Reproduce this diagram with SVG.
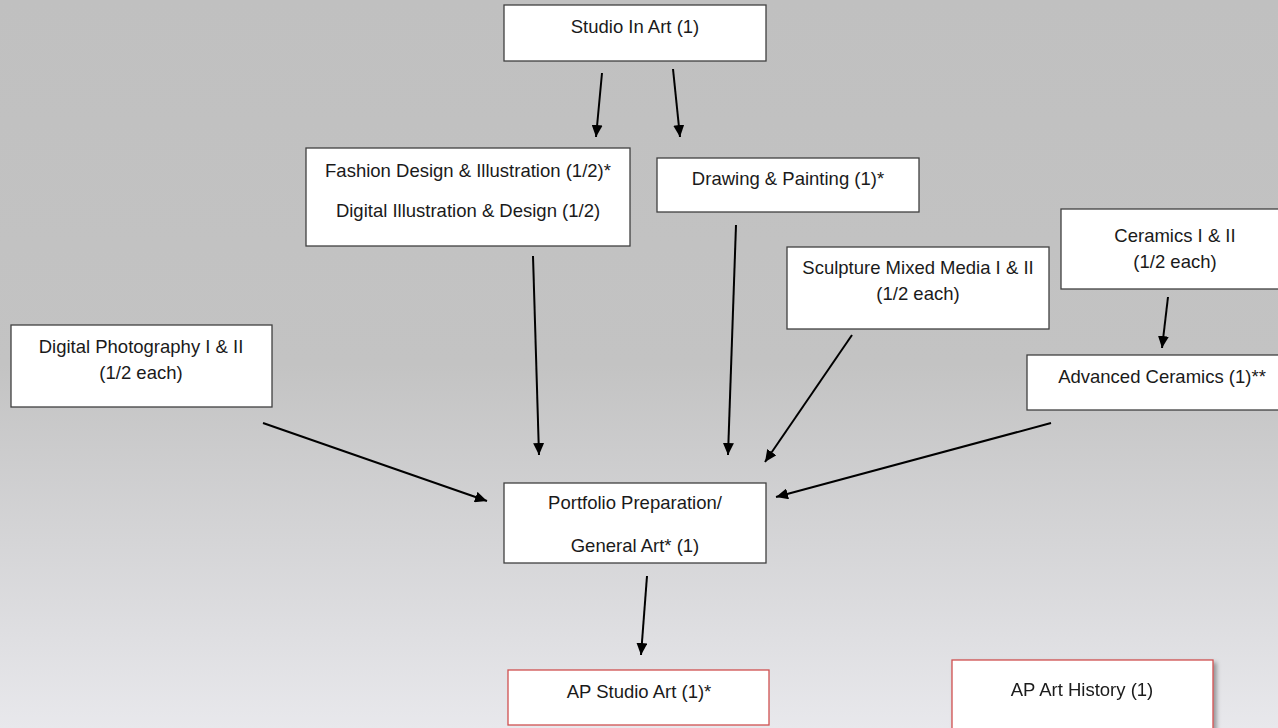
<svg xmlns="http://www.w3.org/2000/svg" width="1278" height="728" viewBox="0 0 1278 728">
  <defs>
    <linearGradient id="bg" x1="0" y1="0" x2="0" y2="1">
      <stop offset="0" stop-color="#c0c0c0"/>
      <stop offset="0.5" stop-color="#c3c3c3"/>
      <stop offset="1" stop-color="#e8e8ec"/>
    </linearGradient>
    <marker id="arr" markerUnits="userSpaceOnUse" markerWidth="13" markerHeight="11" refX="12" refY="5.5" orient="auto">
      <path d="M0,0 L12,5.5 L0,11 z" fill="#000"/>
    </marker>
    <filter id="sh" x="-10%" y="-20%" width="130%" height="150%">
      <feDropShadow dx="3" dy="3" stdDeviation="2" flood-color="#000" flood-opacity="0.35"/>
    </filter>
  </defs>
  <style>
    .box { fill: #fff; stroke: #404040; stroke-width: 1.3; }
    .red { fill: #fff; stroke: #d05050; stroke-width: 1.3; }
    text { font-family: "Liberation Sans", Arial, sans-serif; font-size: 18.5px; fill: #1a1a1a; text-anchor: middle; }
    .c line { stroke: #000; stroke-width: 2; marker-end: url(#arr); }
  </style>
  <rect width="1278" height="728" fill="url(#bg)"/>

  <g id="studio-in-art">
    <rect class="box" x="504" y="5" width="262" height="56"/>
    <text x="635" y="33">Studio In Art (1)</text>
  </g>
  <g id="fashion-digital">
    <rect class="box" x="306" y="148" width="324" height="98"/>
    <text x="468" y="177">Fashion Design &amp; Illustration (1/2)*</text>
    <text x="468" y="217">Digital Illustration &amp; Design (1/2)</text>
  </g>
  <g id="drawing-painting">
    <rect class="box" x="657" y="158" width="262" height="54"/>
    <text x="788" y="185">Drawing &amp; Painting (1)*</text>
  </g>
  <g id="sculpture">
    <rect class="box" x="787" y="247" width="262" height="82"/>
    <text x="918" y="274">Sculpture Mixed Media I &amp; II</text>
    <text x="918" y="300">(1/2 each)</text>
  </g>
  <g id="ceramics">
    <rect class="box" x="1061" y="209" width="230" height="80"/>
    <text x="1175" y="242">Ceramics I &amp; II</text>
    <text x="1175" y="268">(1/2 each)</text>
  </g>
  <g id="advanced-ceramics">
    <rect class="box" x="1027" y="355" width="264" height="55"/>
    <text x="1162" y="383">Advanced Ceramics (1)**</text>
  </g>
  <g id="digital-photography">
    <rect class="box" x="11" y="325" width="261" height="82"/>
    <text x="141" y="353">Digital Photography I &amp; II</text>
    <text x="141" y="379">(1/2 each)</text>
  </g>
  <g id="portfolio">
    <rect class="box" x="504" y="483" width="262" height="80"/>
    <text x="635" y="509">Portfolio Preparation/</text>
    <text x="635" y="552">General Art*  (1)</text>
  </g>
  <g id="ap-studio-art">
    <rect class="red" x="508" y="670" width="261" height="55"/>
    <text x="639" y="698">AP Studio Art (1)*</text>
  </g>
  <g id="ap-art-history" filter="url(#sh)">
    <rect class="red" x="952" y="660" width="261" height="80"/>
    <text x="1082" y="696">AP Art History (1)</text>
  </g>

  <g id="connectors" class="c">
    <line x1="602" y1="73" x2="596" y2="137"/>
    <line x1="673" y1="69" x2="680" y2="137"/>
    <line x1="533" y1="256" x2="539" y2="455"/>
    <line x1="736" y1="225" x2="728" y2="455"/>
    <line x1="852" y1="335" x2="765" y2="462"/>
    <line x1="1168" y1="297" x2="1162" y2="348"/>
    <line x1="1051" y1="423" x2="776" y2="497"/>
    <line x1="263" y1="423" x2="487" y2="501"/>
    <line x1="647" y1="576" x2="641" y2="655"/>
  </g>
</svg>
